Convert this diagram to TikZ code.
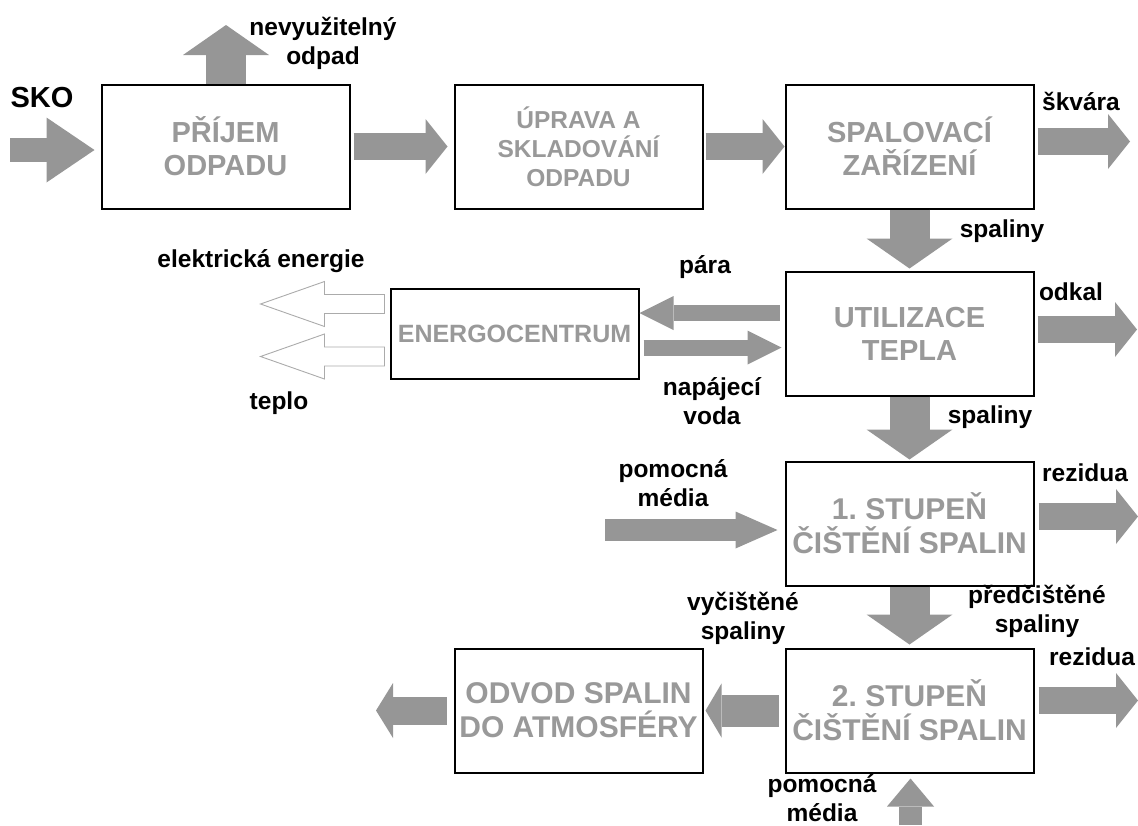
\documentclass[tikz,border=0pt]{standalone}
\usepackage{fontspec}
\setmainfont{Liberation Sans}
\usetikzlibrary{arrows.meta,positioning,calc}
\definecolor{boxgray}{HTML}{999999}
\definecolor{flowgray}{HTML}{969696}
\tikzset{
  stage/.style={rectangle,draw=black,line width=2pt,fill=white,minimum width=248pt,minimum height=124pt,align=center,text=boxgray,inner sep=2pt,font=\fontsize{29}{33}\selectfont\bfseries},
  stagewide/.style={stage,font=\fontsize{30}{34}\selectfont\bfseries},
  lbl/.style={align=center,inner sep=0pt,font=\fontsize{24.5}{29}\selectfont\bfseries},
  blockarrow/.style n args={3}{draw=flowgray,line width=#1,-{Triangle[length=#2 0 0,width=#3 0 0,line width=0pt 0 0]}},
  flow/.style={blockarrow={27pt}{22pt}{55pt}},
  flowdown/.style={blockarrow={40pt}{30pt}{86pt}},
  flowthin/.style={blockarrow={16pt}{34pt}{34pt}},
  hollow/.style={draw=flowgray!80,line width=0.9pt,fill=white,line join=miter}
}
\begin{document}
\begin{tikzpicture}[x=1pt,y=-1pt,node distance=61pt and 81pt]
  \useasboundingbox (0,0) rectangle (1138,825);
  % process chain
  \node[stage] (prijem) at (225.5,146.5) {PŘÍJEM\\ODPADU};
  \node[stage,right=103pt of prijem,font=\fontsize{24.5}{29}\selectfont\bfseries] (uprava) {ÚPRAVA A\\SKLADOVÁNÍ\\ODPADU};
  \node[stage,right=of uprava] (spal) {SPALOVACÍ\\ZAŘÍZENÍ};
  \node[stage,below=of spal] (util) {UTILIZACE\\TEPLA};
  \node[stage,left=145pt of util,minimum height=90pt,font=\fontsize{25}{29}\selectfont\bfseries] (energ) {ENERGOCENTRUM};
  \node[stagewide,below=64pt of util] (clean1) {1.\ STUPEŇ\\ČIŠTĚNÍ SPALIN};
  \node[stagewide,below=of clean1] (clean2) {2.\ STUPEŇ\\ČIŠTĚNÍ SPALIN};
  \node[stagewide,left=of clean2] (odvod) {ODVOD SPALIN\\DO ATMOSFÉRY};
  % free ends
  \coordinate (skoin) at (10,150);
  \coordinate (waste) at (226,25);
  \coordinate (slag) at (1130,141.5);
  \coordinate (sludge) at (1137,329.5);
  \coordinate (aux1) at (605,530);
  \coordinate (res1) at (1138,516.5);
  \coordinate (res2) at (1138,700.5);
  \coordinate (stack) at (376,704);
  \coordinate (aux2) at (910.5,825);
  % flows
  \draw[blockarrow={24pt}{48pt}{65pt},shorten >=6pt] (skoin) -- (skoin -| prijem.west);
  \draw[flowdown] (waste |- prijem.north) -- (waste);
  \draw[flow,shorten <=3pt,shorten >=6pt] (prijem) -- (uprava);
  \draw[flow,shorten <=2pt] (uprava) -- (spal);
  \draw[flow,shorten <=3pt] (slag -| spal.east) -- (slag);
  \draw[flowdown,shorten >=2pt] (spal) -- (util);
  \draw[flowthin,shorten <=5pt] ([yshift=20.5pt]util.west) -- ([yshift=20.5pt]energ.east);
  \draw[flowthin,shorten <=4pt,shorten >=3pt] ([yshift=-14pt]energ.east) -- ([yshift=-14pt]util.west);
  \draw[flow,shorten <=3pt] (sludge -| util.east) -- (sludge);
  \draw[flowdown,shorten >=1pt] (util) -- (clean1);
  \draw[blockarrow={22pt}{42pt}{37pt},shorten >=7pt] (aux1) -- (aux1 -| clean1.west);
  \draw[flow,shorten <=4pt] (res1 -| clean1.east) -- (res1);
  \draw[flowdown,shorten >=3pt] (clean1) -- (clean2);
  \draw[flow,shorten <=4pt] (res2 -| clean2.east) -- (res2);
  \draw[blockarrow={32pt}{16pt}{54pt},shorten <=6pt,shorten >=2pt] (clean2) -- (odvod);
  \draw[blockarrow={28pt}{17pt}{55pt},shorten <=7pt] (odvod.west) -- (stack |- odvod.west);
  \draw[blockarrow={23pt}{28pt}{47pt},shorten >=5pt] (aux2) -- (aux2 |- clean2.south);
  \foreach \dy in {-29.5,23}
    \draw[hollow] ($(energ.west)+(-5,\dy-9.5)$) -- ++(-60,0) -- ++(0,-13) -- ++(-64,22.5) -- ++(64,22.5) -- ++(0,-13) -- ++(60,0) -- cycle;
  % labels
  \node[lbl,font=\fontsize{29}{33}\selectfont\bfseries] (skolbl) at (42,98) {SKO};
  \node[lbl] (wastelbl) at (323,43) {nevyužitelný\\odpad};
  \node[lbl] (slaglbl) at (1081,101) {škvára};
  \node[lbl] (fluelbl1) at (1002,231) {spaliny};
  \node[lbl] (steamlbl) at (705,267) {pára};
  \node[lbl] (feedlbl) at (712,401) {napájecí\\voda};
  \node[lbl] (sludgelbl) at (1071,292) {odkal};
  \node[lbl] (fluelbl2) at (990,417) {spaliny};
  \node[lbl] (eleclbl) at (261,261) {elektrická energie};
  \node[lbl] (heatlbl) at (279,403) {teplo};
  \node[lbl] (aux1lbl) at (673,483.5) {pomocná\\média};
  \node[lbl] (res1lbl) at (1085,473) {rezidua};
  \node[lbl] (prefluelbl) at (1037,611.5) {předčištěné\\spaliny};
  \node[lbl] (cleanfluelbl) at (743,618) {vyčištěné\\spaliny};
  \node[lbl] (res2lbl) at (1092,657) {rezidua};
  \node[lbl] (aux2lbl) at (822,798) {pomocná\\média};
\end{tikzpicture}
\end{document}
